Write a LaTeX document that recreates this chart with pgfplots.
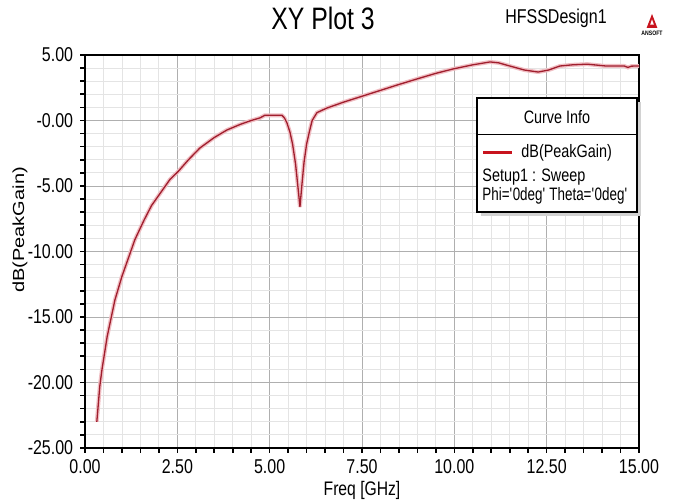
\documentclass[border=0pt]{standalone}
\usepackage{pgfplots}
\pgfplotsset{compat=1.18}
\usepackage{fontspec}
\setmainfont{Liberation Sans}[FakeStretch=0.8]
\newfontfamily\plainfont{Liberation Sans}
\definecolor{curvered}{RGB}{160,30,45}
\definecolor{halo}{RGB}{240,190,195}
\definecolor{legendred}{RGB}{200,20,30}
\definecolor{majgrid}{RGB}{175,175,175}
\definecolor{mingrid}{RGB}{228,228,228}

\pgfplotstableread{
x y
0.32 -23.0
0.40 -20.3
0.46 -19.0
0.60 -16.5
0.81 -13.7
1.00 -11.9
1.20 -10.3
1.35 -9.1
1.60 -7.6
1.80 -6.5
2.00 -5.7
2.30 -4.5
2.52 -3.9
2.80 -3.0
3.11 -2.1
3.50 -1.3
3.84 -0.73
4.20 -0.3
4.50 0.0
4.74 0.2
4.87 0.4
5.33 0.4
5.40 0.2
5.47 -0.2
5.55 -0.9
5.62 -1.8
5.70 -3.3
5.77 -5.2
5.82 -6.6
5.87 -5.0
5.93 -3.2
6.00 -1.8
6.08 -0.8
6.15 0.0
6.28 0.6
6.55 0.95
7.00 1.4
7.50 1.85
8.00 2.3
8.50 2.75
9.07 3.24
9.50 3.6
9.96 3.93
10.50 4.25
10.97 4.47
11.20 4.4
11.50 4.16
11.90 3.85
12.27 3.7
12.55 3.85
12.86 4.16
13.20 4.25
13.60 4.3
14.10 4.16
14.60 4.16
14.70 4.05
14.80 4.15
15.00 4.16
}\gaindata

\begin{document}
\begin{tikzpicture}
\path[use as bounding box] (0pt,0pt) rectangle (336.5pt,251pt);
\begin{axis}[
  at={(42.5pt,27pt)}, anchor=south west,
  width=277pt, height=196.5pt, scale only axis,
  xmin=0, xmax=15, ymin=-25, ymax=5,
  xtick={0,2.5,5,7.5,10,12.5,15},
  xticklabels={0.00,2.50,5.00,7.50,10.00,12.50,15.00},
  ytick={-25,-20,-15,-10,-5,0,5},
  yticklabels={-25.00,-20.00,-15.00,-10.00,-5.00,-0.00,5.00},
  minor x tick num=4, minor y tick num=4,
  grid=both,
  major grid style={majgrid, line width=0.4pt},
  minor grid style={mingrid, line width=0.4pt},
  tick align=outside, xtick pos=bottom, ytick pos=left,
  major tick length=2.4pt, minor tick length=2.4pt,
  tick style={black, line width=0.8pt},
  axis line style={black, line width=1pt},
  tick label style={font=\fontsize{10}{12}\selectfont, text=black},
  clip=true
]
\addplot[halo, line width=2pt, forget plot] table {\gaindata};
\addplot[curvered, line width=0.65pt] table {\gaindata};
\end{axis}

% titles
\node[font=\fontsize{15.5}{18}\selectfont] at (161.5pt,242pt) {XY Plot 3};
\node[font=\fontsize{10}{12}\selectfont] at (278pt,242pt) {HFSSDesign1};
% logo
\fill[legendred] (326pt,244pt) -- (323.3pt,237pt) -- (328.7pt,237pt) -- cycle;
\fill[white] (326pt,241.3pt) -- (325.1pt,238.7pt) -- (326.9pt,238.7pt) -- cycle;
\node[font=\fontsize{3.2}{4}\selectfont\bfseries, inner sep=0pt] at (326pt,234.5pt) {ANSOFT};

% axis labels
\node[font=\fontsize{9.8}{12}\selectfont] at (181pt,6pt) {Freq [GHz]};
\node[rotate=90, inner sep=0pt] at (10pt,136pt) {\scalebox{1}[0.8]{\plainfont\fontsize{10}{12}\selectfont dB(PeakGain)}};

% curve info box
\fill[gray!35] (240.5pt,143pt) rectangle (320.5pt,200pt);
\filldraw[fill=white, draw=black, line width=0.6pt] (238.5pt,145pt) rectangle (318.5pt,202pt);
\draw[black, line width=0.4pt] (238.5pt,184pt) -- (318.5pt,184pt);
\node[font=\fontsize{9}{11}\selectfont] at (278.5pt,192.5pt) {Curve Info};
\draw[legendred, line width=1.5pt] (241.5pt,174.5pt) -- (256pt,174.5pt);
\node[anchor=west, inner sep=0pt, font=\fontsize{9}{11}\selectfont] at (260.5pt,174.5pt) {dB(PeakGain)};
\node[anchor=west, inner sep=0pt, font=\fontsize{9}{11}\selectfont] at (241pt,162.5pt) {Setup1 : Sweep};
\node[anchor=west, inner sep=0pt, font=\fontsize{9}{11}\selectfont] at (241pt,153pt) {\scalebox{0.93}[1]{Phi=\textquotesingle 0deg\textquotesingle{} Theta=\textquotesingle 0deg\textquotesingle}};
\end{tikzpicture}
\end{document}
